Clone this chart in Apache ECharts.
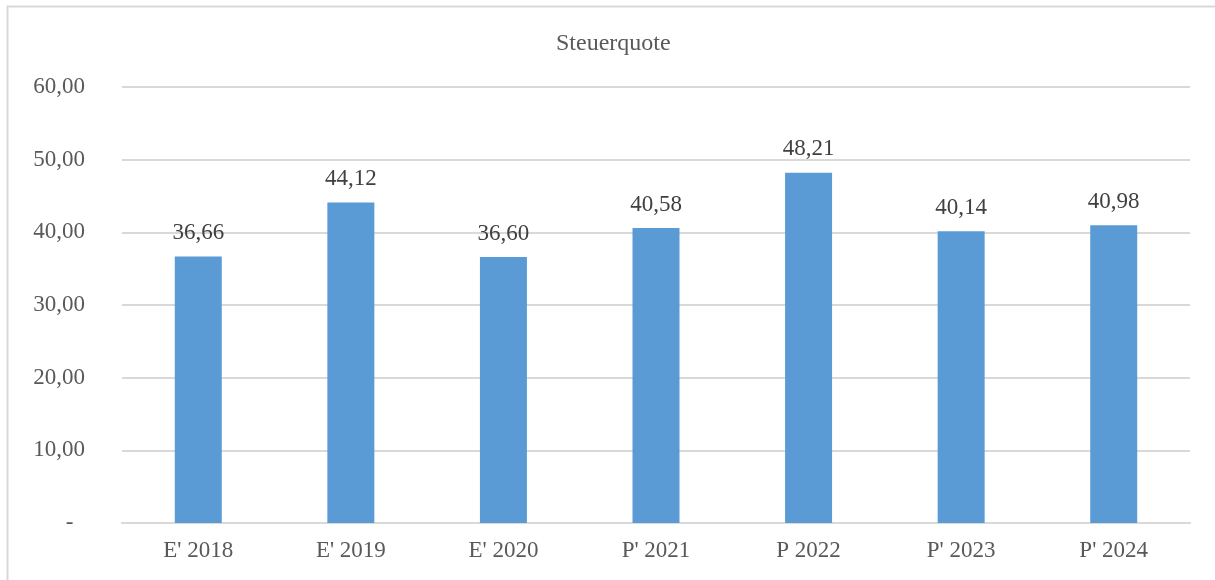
<!DOCTYPE html>
<html>
<head>
<meta charset="utf-8">
<script src="https://cdn.jsdelivr.net/npm/echarts@6/dist/echarts.min.js"></script>
<style>
  html, body { margin: 0; padding: 0; background: #fff; }
  #main { width: 1215px; height: 580px; }
</style>
</head>
<body>
<div id="main"></div>
<script>
const categories = ["E' 2018", "E' 2019", "E' 2020", "P' 2021", "P 2022", "P' 2023", "P' 2024"];
const values = [36.66, 44.12, 36.60, 40.58, 48.21, 40.14, 40.98];
const yTicks = { min: 0, max: 60, interval: 10 };

const fmt = v => v.toFixed(2).replace('.', ',');
const serif = '"Liberation Serif", "Times New Roman", serif';

let myChart = echarts.init(document.getElementById('main'));
let option = {
  animation: false,
  textStyle: { fontFamily: serif },
  graphic: [{
    type: 'rect',
    left: 5, top: 4,
    shape: { width: 1240, height: 620 },
    style: { fill: 'none', stroke: '#d9d9d9', lineWidth: 2 },
    silent: true
  }],
  title: {
    text: 'Steuerquote',
    left: 551,
    top: 27,
    textStyle: { fontFamily: serif, fontSize: 24, fontWeight: 'normal', color: '#595959' }
  },
  grid: { left: 122, right: 25, top: 87, bottom: 57 },
  xAxis: {
    type: 'category',
    data: categories,
    axisLine: { lineStyle: { color: '#d9d9d9', width: 2 } },
    axisTick: { show: false },
    axisLabel: { color: '#595959', fontSize: 23, margin: 16, fontFamily: serif }
  },
  yAxis: {
    type: 'value',
    min: yTicks.min,
    max: yTicks.max,
    interval: yTicks.interval,
    axisLine: { show: false },
    axisTick: { show: false },
    splitLine: { lineStyle: { color: '#d9d9d9', width: 2 } },
    axisLabel: {
      color: '#595959', fontSize: 23, margin: 37,
      fontFamily: serif,
      formatter: v => v === 0 ? '-  ' : fmt(v)
    }
  },
  series: [{
    type: 'bar',
    data: values,
    barWidth: 47,
    itemStyle: { color: '#5b9bd5' },
    label: {
      show: true,
      position: 'top',
      distance: 12,
      color: '#404040',
      fontSize: 23,
      fontFamily: serif,
      formatter: p => fmt(p.value)
    }
  }]
};
option && myChart.setOption(option);
</script>
</body>
</html>
